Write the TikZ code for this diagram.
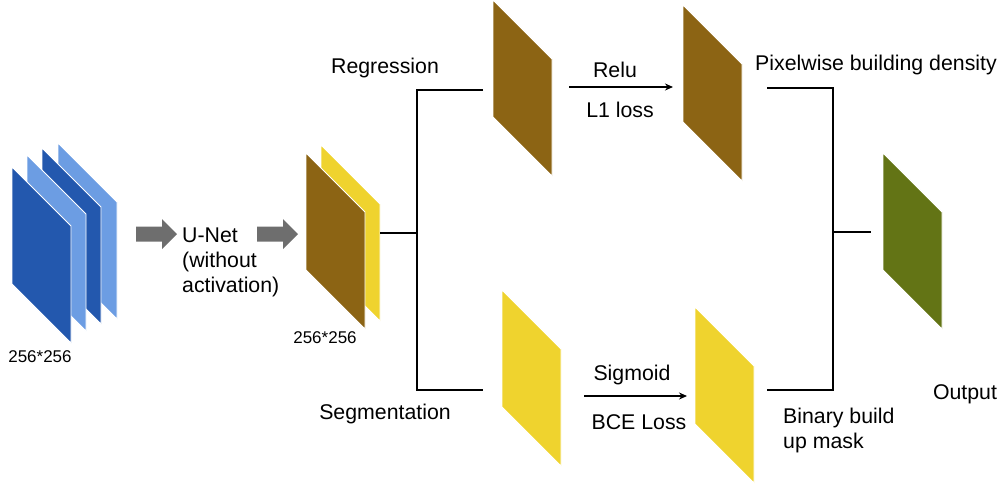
\documentclass[tikz,border=0pt]{standalone}
\usepackage{fontspec}
\setmainfont{Liberation Sans}
\usetikzlibrary{arrows.meta}
\definecolor{dblue}{HTML}{2358AE}
\definecolor{lblue}{HTML}{6C9DE3}
\definecolor{brownc}{HTML}{8C6414}
\definecolor{yellowc}{HTML}{EFD32E}
\definecolor{greenc}{HTML}{637415}
\definecolor{arrgray}{HTML}{6E6E6E}
\begin{document}
\begin{tikzpicture}[x=1pt,y=-1pt,
  slab/.pic={\fill[#1, draw=white, line width=0.8pt] (0,0) -- (59,59) -- (59,176) -- (0,117) -- cycle;
             \coordinate (-c) at (29.5,88);},
  bigarrow/.pic={\fill[arrgray] (0,-7.5) -- (26,-7.5) -- (26,-15) -- (41,0) -- (26,15) -- (26,7.5) -- (0,7.5) -- cycle;},
  lbl/.style={font=\fontsize{21.3}{25}\selectfont, inner sep=0pt},
  sml/.style={font=\fontsize{17}{20}\selectfont, inner sep=0pt},
  conn/.style={draw=black, line width=1.4pt},
  flow/.style={draw=black, line width=1.4pt, -{Stealth[length=8pt,width=7pt]}}]
\useasboundingbox (0,0) rectangle (1003,488);
% input stack
\pic (L3) at (58,143) {slab=lblue};
\pic (L2) at (42,148) {slab=dblue};
\pic (L1) at (27,155) {slab=lblue};
\pic (L0) at (12,167) {slab=dblue};
\node[sml] (in) at (40,357) {256*256};
% gray arrows
\pic at (136,234) {bigarrow};
\pic at (257,234) {bigarrow};
\node[lbl, anchor=west, align=left] (unet) at (182,262) {U-Net\\(without\\activation)};
% middle stack
\pic (MY) at (321,145) {slab=yellowc};
\pic (MB) at (306,153) {slab=brownc};
\node[sml] (mid) at (325,338) {256*256};
% branches
\pic (R1) at (493,0) {slab=brownc};
\pic (R2) at (683,5) {slab=brownc};
\pic (S1) at (502,290) {slab=yellowc};
\pic (S2) at (695,307) {slab=yellowc};
\pic (G) at (883,153) {slab=greenc};
% labels
\node[lbl] (reg) at (385,68) {Regression};
\node[lbl] (seg) at (385,414) {Segmentation};
\node[lbl] (relu) at (615,70) {Relu};
\node[lbl] (l1) at (620,110) {L1 loss};
\node[lbl] (sig) at (632,375) {Sigmoid};
\node[lbl] (bce) at (639,422) {BCE Loss};
\node[lbl] (pix) at (876,65) {Pixelwise building density};
\node[lbl] (out) at (965,394) {Output};
\node[lbl, anchor=west, align=left] (bin) at (783,430) {Binary build\\up mask};
% connectors
\coordinate (mout) at (380,233);
\coordinate (jmid) at (417,233);
\coordinate (jtop) at (417,90);
\coordinate (jbot) at (417,390);
\coordinate (r1in) at (483,90);
\coordinate (s1in) at (483,390);
\draw[conn] (mout) -- (jmid);
\draw[conn] (r1in) -- (jtop) -- (jbot) -- (s1in);
\coordinate (rA) at (569,87);
\coordinate (rB) at (673,87);
\coordinate (sA) at (584,396);
\coordinate (sB) at (687,396);
\draw[flow] (rA) -- (rB);
\draw[flow] (sA) -- (sB);
\coordinate (r2out) at (767,88);
\coordinate (s2out) at (767,390);
\coordinate (ktop) at (833,88);
\coordinate (kbot) at (833,390);
\coordinate (kmid) at (833,232);
\coordinate (gin) at (871,232);
\draw[conn] (r2out) -- (ktop) -- (kbot) -- (s2out);
\draw[conn] (kmid) -- (gin);
\end{tikzpicture}
\end{document}
